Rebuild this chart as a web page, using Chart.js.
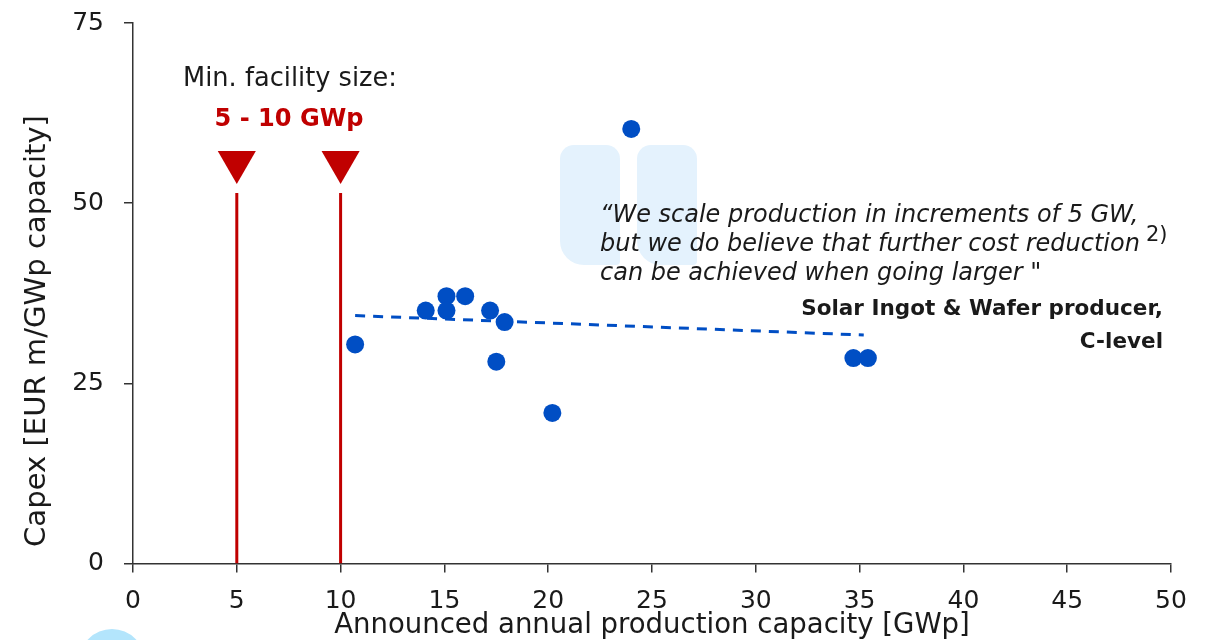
<!DOCTYPE html>
<html>
<head>
<meta charset="utf-8">
<script src="https://cdn.jsdelivr.net/npm/chart.js@4.4.1/dist/chart.umd.min.js"></script>
<style>
  html, body { margin: 0; padding: 0; background: #fff; }
  #wrap { width: 1207px; height: 640px; position: relative; }
</style>
</head>
<body>
<div id="wrap"><canvas id="capexChart"></canvas></div>
<script>
// Announced ingot & wafer plants: capacity [GWp] vs capex [EUR m/GWp]
const capacityGWp = [10.7, 14.1, 15.1, 15.1, 16.0, 17.2, 17.9, 17.5, 20.2, 24.0, 34.7, 35.4];
const capexEURm   = [30.4, 35.1, 37.1, 35.1, 37.1, 35.1, 33.5, 28.0, 20.9, 60.3, 28.5, 28.5];

// linear trend across the plants
const trendX = [10.7, 35.2];
const trendY = [34.4, 31.7];

// minimum facility size markers
const minSizeGWp = [5, 10];
const minSizeLineTop = 51.4;
const minSizeArrowY = 55.7;

const xTicks = [0, 5, 10, 15, 20, 25, 30, 35, 40, 45, 50];
const yTicks = [0, 25, 50, 75];

const BLUE = '#004ec4';
const RED = '#c00000';
const INK = '#1a1a1a';
const FONT = "'DejaVu Sans', 'Noto Sans', sans-serif";

const toPoints = (xs, ys) => xs.map((x, i) => ({ x, y: ys[i] }));

// font size that makes a string exactly `width` px wide
const measureCtx = document.createElement('canvas').getContext('2d');
const fitSize = (text, style, width) => {
  measureCtx.font = `${style} 100px ${FONT}`;
  return (100 * width) / measureCtx.measureText(text).width;
};

const X_TITLE = 'Announced annual production capacity [GWp]';
const xTitleSize = fitSize(X_TITLE, 'normal', 636);

const QUOTE = [
  '\u201cWe scale production in increments of 5 GW,',
  'but we do believe that further cost reduction',
  'can be achieved when going larger "',
];
const SOURCE = ['Solar Ingot & Wafer producer,', 'C-level'];

const quoteSize = fitSize(QUOTE[1], 'italic', 540);
const sourceSize = fitSize(SOURCE[0], 'bold', 362);

const markerLines = minSizeGWp.map((x) => ({
  type: 'line',
  data: [{ x, y: 0 }, { x, y: minSizeLineTop }],
  borderColor: RED,
  borderWidth: 3,
  pointRadius: 0,
}));

const drawFitted = (ctx, text, style, width, x, y) => {
  ctx.font = `${style} ${fitSize(text, style, width)}px ${FONT}`;
  ctx.fillText(text, x, y);
};

// background decoration + free text
const decorations = {
  id: 'decorations',
  beforeDraw(chart) {
    const ctx = chart.ctx;
    ctx.save();
    ctx.fillStyle = '#e4f2fd';
    [[560, 145], [637, 145]].forEach(([x, y]) => {
      ctx.beginPath();
      ctx.roundRect(x, y, 60, 120, [14, 14, 4, 24]);
      ctx.fill();
    });
    ctx.fillStyle = '#b3e5fc';
    ctx.beginPath();
    ctx.arc(112, 662, 33, 0, Math.PI * 2);
    ctx.fill();
    ctx.restore();
  },
  afterDraw(chart) {
    const ctx = chart.ctx;
    ctx.save();
    ctx.textBaseline = 'middle';
    ctx.fillStyle = INK;

    // y axis title
    ctx.save();
    ctx.translate(37, 331);
    ctx.rotate(-Math.PI / 2);
    ctx.textAlign = 'center';
    drawFitted(ctx, 'Capex [EUR m/GWp capacity]', 'normal', 432, 0, 0);
    ctx.restore();

    ctx.textAlign = 'center';
    drawFitted(ctx, 'Min. facility size:', 'normal', 214, 290, 79);
    ctx.fillStyle = RED;
    drawFitted(ctx, '5 - 10 GWp', 'bold', 149, 289, 120);

    ctx.textAlign = 'left';
    ctx.fillStyle = INK;
    ctx.font = `italic ${quoteSize}px ${FONT}`;
    QUOTE.forEach((line, i) => ctx.fillText(line, 600, 216 + i * 29));
    ctx.font = `21px ${FONT}`;
    ctx.fillText('2)', 1146, 236);

    ctx.textAlign = 'right';
    ctx.font = `bold ${sourceSize}px ${FONT}`;
    ctx.fillText(SOURCE[0], 1163, 309);
    ctx.fillText(SOURCE[1], 1163, 342);
    ctx.restore();
  },
};

new Chart(document.getElementById('capexChart'), {
  type: 'scatter',
  data: {
    datasets: [
      {
        data: toPoints(capacityGWp, capexEURm),
        backgroundColor: BLUE,
        borderWidth: 0,
        pointRadius: 9,
      },
      {
        type: 'line',
        data: toPoints(trendX, trendY),
        borderColor: BLUE,
        borderWidth: 3,
        borderDash: [10, 8],
        pointRadius: 0,
      },
      {
        data: minSizeGWp.map((x) => ({ x, y: minSizeArrowY })),
        pointStyle: 'triangle',
        rotation: 180,
        pointRadius: 22,
        backgroundColor: RED,
        borderWidth: 0,
      },
      ...markerLines,
    ],
  },
  options: {
    responsive: true,
    maintainAspectRatio: false,
    animation: false,
    layout: { padding: { top: 23, right: 36, left: 0, bottom: 0 } },
    plugins: {
      legend: { display: false },
      tooltip: { enabled: false },
    },
    scales: {
      x: {
        type: 'linear',
        min: 0,
        max: 50,
        afterBuildTicks: (axis) => { axis.ticks = xTicks.map((value) => ({ value })); },
        afterFit: (axis) => {
          axis.height = 76.5;
          axis.paddingLeft = 0;
          axis.paddingRight = 0;
        },
        border: { color: '#333', width: 1.5 },
        grid: { drawOnChartArea: false, drawTicks: true, tickLength: 9, color: '#333', lineWidth: 1.5 },
        ticks: { color: INK, padding: 14, font: { family: FONT, size: 25 }, maxRotation: 0 },
        title: {
          display: true,
          text: X_TITLE,
          color: INK,
          font: { family: FONT, size: xTitleSize, lineHeight: 1.05 },
          padding: { top: 0, bottom: 0 },
        },
      },
      y: {
        type: 'linear',
        min: 0,
        max: 75,
        afterBuildTicks: (axis) => { axis.ticks = yTicks.map((value) => ({ value })); },
        afterFit: (axis) => {
          axis.width = 133;
          axis.paddingTop = 0;
          axis.paddingBottom = 0;
        },
        border: { color: '#333', width: 1.5 },
        grid: { drawOnChartArea: false, drawTicks: true, tickLength: 9, color: '#333', lineWidth: 1.5 },
        ticks: { color: INK, padding: 20, font: { family: FONT, size: 25 } },
      },
    },
  },
  plugins: [decorations],
});
</script>
</body>
</html>
